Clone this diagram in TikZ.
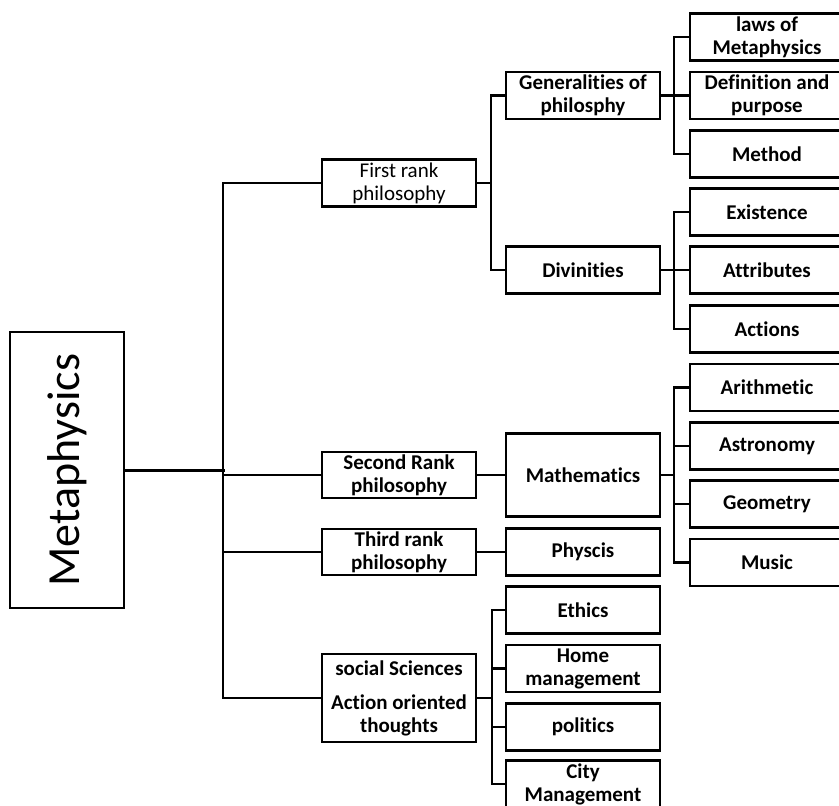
\documentclass[tikz,border=0pt]{standalone}
\usepackage{fontspec}
\setmainfont{Carlito}[Ligatures=NoCommon]
\begin{document}
\begin{tikzpicture}[x=1pt,y=-1pt,
  box/.style={draw=black,line width=2.6pt,rectangle,inner sep=0pt,align=center,
    minimum width=154pt,minimum height=47pt,
    font=\fontsize{21}{23}\selectfont\bfseries},
  plainbox/.style={box,font=\fontsize{21}{23}\selectfont},
  conn/.style={draw=black,line width=2.6pt,line cap=rect}]
\useasboundingbox (0,0) rectangle (839,806);
\clip (0,0) rectangle (839,806);
\fill[white] (0,0) rectangle (839,806);
% root
\node[draw=black,line width=2.6pt,rectangle,inner sep=0pt,minimum width=114pt,minimum height=276pt] (meta) at (67,470) {};
\node[rotate=90,font=\fontsize{46}{50}\selectfont] (metatxt) at (67,470) {Metaphysics};
% level 1
\node[plainbox] (first) at (399,183) {First rank\\philosophy};
\node[box,minimum height=46pt] (second) at (399,475) {Second Rank\\philosophy};
\node[box,minimum height=46pt] (third) at (399,552) {Third rank\\philosophy};
\node[box,minimum height=88pt] (soc) at (399,698) {social Sciences\\[11pt]Action oriented\\thoughts};
% level 2
\node[box] (gen) at (583,95.5) {Generalities of\\philosphy};
\node[box] (div) at (583,270) {Divinities};
\node[box,minimum height=83pt] (math) at (583,475) {Mathematics};
\node[box] (phys) at (583,552) {Physcis};
\node[box] (eth) at (583,610) {Ethics};
\node[box] (home) at (583,668.5) {Home\\management};
\node[box] (pol) at (583,727) {politics};
\node[box] (city) at (583,784) {City\\Management};
% level 3
\node[box] (laws) at (767,37) {laws of\\Metaphysics};
\node[box] (defn) at (767,95.5) {Definition and\\purpose};
\node[box] (meth) at (767,154) {Method};
\node[box] (exist) at (767,212) {Existence};
\node[box] (attr) at (767,270) {Attributes};
\node[box] (act) at (767,329) {Actions};
\node[box] (arith) at (767,387.5) {Arithmetic};
\node[box] (astro) at (767,446) {Astronomy};
\node[box] (geom) at (767,504) {Geometry};
\node[box] (music) at (767,562.5) {Music};
% junctions
\coordinate (j0) at (223,470);
\coordinate (j1) at (491,183);
\coordinate (j2) at (674,95.5);
\coordinate (j3) at (674,270);
\coordinate (j4) at (674,475);
\coordinate (j5) at (492,698);
% connectors
\draw[conn,line width=3pt] (meta.east) -- (j0);
\draw[conn] (first.west) -| (j0) |- (soc.west);
\draw[conn] (j0) |- (second.west);
\draw[conn] (j0) |- (third.west);
\draw[conn] (first.east) -- (j1);
\draw[conn] (gen.west) -| (j1) |- (div.west);
\draw[conn] (gen.east) -- (j2);
\draw[conn] (laws.west) -| (j2) |- (meth.west);
\draw[conn] (defn.west) -- (j2);
\draw[conn] (div.east) -- (j3);
\draw[conn] (exist.west) -| (j3) |- (act.west);
\draw[conn] (attr.west) -- (j3);
\draw[conn] (second.east) -- (math.west);
\draw[conn] (third.east) -- (phys.west);
\draw[conn] (math.east) -- (j4);
\draw[conn] (arith.west) -| (j4) |- (music.west);
\draw[conn] (astro.west) -- (astro.west -| j4);
\draw[conn] (geom.west) -- (geom.west -| j4);
\draw[conn] (soc.east) -- (j5);
\draw[conn] (eth.west) -| (j5) |- (city.west);
\draw[conn] (home.west) -- (home.west -| j5);
\draw[conn] (pol.west) -- (pol.west -| j5);
\end{tikzpicture}
\end{document}
